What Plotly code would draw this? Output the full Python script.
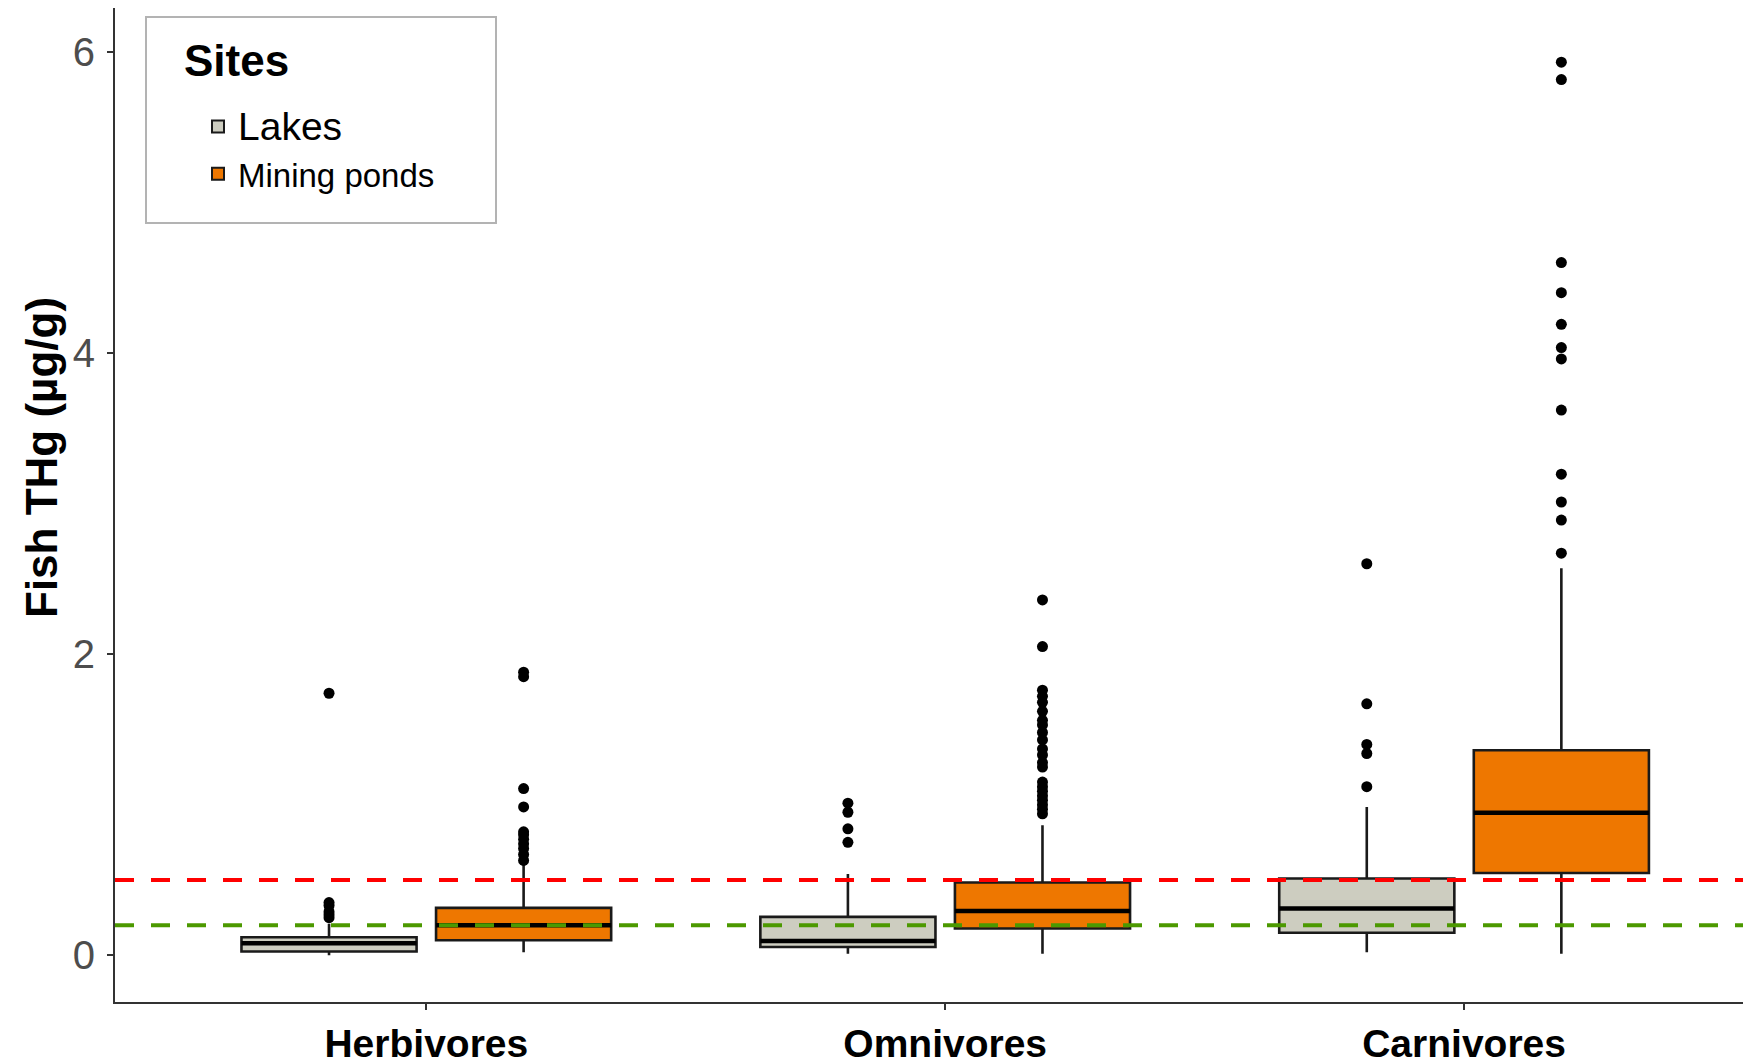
import plotly.graph_objects as go

# ---------------- data ----------------
categories = ["Herbivores", "Omnivores", "Carnivores"]
sites = ["Lakes", "Mining ponds"]

# box statistics per category (Herbivores, Omnivores, Carnivores)
lakes_q1 = [0.025, 0.055, 0.15]
lakes_median = [0.08, 0.095, 0.31]
lakes_q3 = [0.12, 0.255, 0.51]
lakes_low = [0.0, 0.01, 0.02]
lakes_high = [0.21, 0.54, 0.985]

mining_q1 = [0.10, 0.178, 0.547]
mining_median = [0.20, 0.294, 0.946]
mining_q3 = [0.315, 0.483, 1.362]
mining_low = [0.02, 0.01, 0.01]
mining_high = [0.61, 0.864, 2.57]

lakes_outliers = [
    [0.25, 0.27, 0.29, 0.33, 0.35, 1.74],
    [0.75, 0.84, 0.95, 1.01],
    [1.12, 1.34, 1.40, 1.67, 2.60],
]
mining_outliers = [
    [0.63, 0.67, 0.71, 0.74, 0.77, 0.80, 0.82, 0.985, 1.107, 1.85, 1.88],
    [0.94, 0.97, 1.00, 1.03, 1.06, 1.09, 1.12, 1.15, 1.25, 1.28, 1.33, 1.37,
     1.43, 1.48, 1.53, 1.56, 1.62, 1.68, 1.72, 1.76, 2.05, 2.36],
    [2.67, 2.89, 3.01, 3.195, 3.62, 3.96, 4.035, 4.19, 4.40, 4.60, 5.815, 5.93],
]

mercury_limit = 0.5     # red dashed line
advisory_limit = 0.2    # green dashed line

y_ticks = [0, 2, 4, 6]

# ---------------- styles ----------------
lakes_color = "#CDCDC0"
mining_color = "#EE7700"
dodge = 0.1875
box_w = 0.3375

# the page body adds an 8px margin, so the figure is 8px smaller than the window
OFF = 8
W, H = 1751 - OFF, 1064 - OFF
L, R, T, B = 115 - OFF, 0, 0, 62
PW, PH = W - L - R, H - T - B


def px_x(px):   # window pixel -> paper x
    return (px - OFF - L) / PW


def px_y(py):   # window pixel -> paper y
    return (H - B - (py - OFF)) / PH


fig = go.Figure()

groups = [
    ("Lakes", -dodge, lakes_color, lakes_q1, lakes_median, lakes_q3, lakes_low, lakes_high, lakes_outliers,
     "<span style='font-size:39px'>Lakes</span>"),
    ("Mining ponds", dodge, mining_color, mining_q1, mining_median, mining_q3, mining_low, mining_high,
     mining_outliers, "<span style='font-size:33px'>Mining ponds</span>"),
]

for name, off, col, q1, med, q3, lo, hi, outs, legname in groups:
    xs = [i + off for i in range(len(categories))]
    fig.add_trace(go.Box(
        name=legname,
        x=xs, q1=q1, median=med, q3=q3, lowerfence=lo, upperfence=hi,
        width=box_w, fillcolor=col,
        line=dict(color="#1a1a1a", width=2.6),
        whiskerwidth=0, boxpoints=False, hoverinfo="skip",
    ))
    # thicker median bar (ggplot style)
    fig.add_trace(go.Box(
        x=xs, q1=med, median=med, q3=med, lowerfence=med, upperfence=med,
        width=box_w, fillcolor="rgba(0,0,0,0)",
        line=dict(color="black", width=4.5),
        whiskerwidth=0, boxpoints=False, hoverinfo="skip", showlegend=False,
    ))
    ox, oy = [], []
    for i, vals in enumerate(outs):
        ox += [i + off] * len(vals)
        oy += vals
    fig.add_trace(go.Scatter(
        x=ox, y=oy, mode="markers", showlegend=False,
        marker=dict(color="black", size=11),
    ))

# reference lines
fig.add_hline(y=mercury_limit, line=dict(color="#FF0000", width=4, dash="19px,17px"), layer="above")
fig.add_hline(y=advisory_limit, line=dict(color="#4C9900", width=4, dash="19px,17px"), layer="above")

# legend frame
fig.add_shape(type="rect", xref="paper", yref="paper",
              x0=px_x(146), x1=px_x(496), y0=px_y(223), y1=px_y(17),
              line=dict(color="#B3B3B3", width=2), fillcolor="white", layer="above")

# legend title
fig.add_annotation(text="<b>Sites</b>", xref="paper", yref="paper",
                   x=px_x(182), y=px_y(60), xanchor="left", yanchor="middle", showarrow=False,
                   font=dict(size=44, color="black"))

# y-axis title
fig.add_annotation(text="<b>Fish THg (µg/g)</b>", textangle=-90, xref="paper", yref="paper",
                   x=px_x(42), y=px_y(458), xanchor="center", yanchor="middle", showarrow=False,
                   font=dict(size=44, color="black"))

fig.update_layout(
    width=W, height=H,
    margin=dict(l=L, r=R, t=T, b=B, autoexpand=False),
    paper_bgcolor="white", plot_bgcolor="white",
    boxmode="overlay",
    font=dict(family="Liberation Sans, Arial", color="black"),
    legend=dict(
        x=px_x(198), y=px_y(98), xanchor="left", yanchor="top",
        bgcolor="rgba(0,0,0,0)", borderwidth=0,
        font=dict(size=34, color="black"),
        itemsizing="constant", tracegroupgap=0,
    ),
    xaxis=dict(
        range=[-0.6, 2.553], tickvals=list(range(len(categories))),
        ticktext=["<b>" + c + "</b>" for c in categories],
        showgrid=False, zeroline=False, showline=True, linecolor="#333333", linewidth=2,
        ticks="outside", ticklen=6, tickcolor="#333333", tickwidth=1.5,
        tickfont=dict(size=39, color="black"), ticklabelstandoff=0, automargin=False,
    ),
    yaxis=dict(
        range=[-0.31, 6.29], tickvals=y_ticks,
        showgrid=False, zeroline=False, showline=True, linecolor="#333333", linewidth=2,
        ticks="outside", ticklen=6, tickcolor="#333333", tickwidth=1.5,
        tickfont=dict(size=40, color="#4D4D4D"), ticklabelstandoff=4, automargin=False,
    ),
)

fig.write_html("out.html")
